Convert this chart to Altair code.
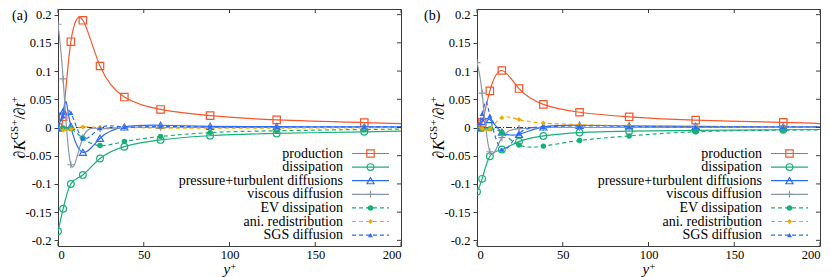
import altair as alt
import pandas as pd

# ---------------- data ----------------
YPLUS = [0.0, 3.0, 7.5, 14.5, 24.5, 38.7, 59.8, 88.7, 127.5, 178.6, 200.0]

SERIES = ["production", "dissipation", "pressure+turbulent diffusions",
          "viscous diffusion", "EV dissipation", "ani. redistribution",
          "SGS diffusion"]

# panel (a)
PROD_A = [0.0, 0.019, 0.152, 0.190, 0.109, 0.054, 0.032, 0.021, 0.0135, 0.0088, 0.007]
DISS_A = [-0.184, -0.144, -0.100, -0.084, -0.055, -0.034, -0.022, -0.0146, -0.0105, -0.0076, -0.0065]
PTD_A = [0.0, 0.028, 0.002, -0.044, -0.019, 0.001, 0.004, 0.002, 0.0015, 0.001, 0.001]
VISC_A = [0.183, 0.086, -0.066, -0.018, -0.002, 0.0, 0.0, 0.0, 0.0, 0.0, 0.0]
EV_A = [0.0, -0.001, -0.002, -0.019, -0.032, -0.025, -0.016, -0.009, -0.0058, -0.0035, -0.003]
ANI_A = [0.0, -0.005, -0.003, 0.001, 0.0, 0.0, -0.001, -0.001, -0.001, -0.0005, -0.0005]
SGS_A = [0.0, 0.020, 0.026, -0.019, -0.001, 0.001, 0.002, 0.001, 0.001, 0.001, 0.001]
# extra readings of curve extrema lying between markers (line only)
PEAK_YP_A = {"pressure+turbulent diffusions": [4.8]}
PEAK_V_A = {"pressure+turbulent diffusions": [0.045]}

# panel (b)
PROD_B = [0.0, 0.009, 0.065, 0.101, 0.069, 0.041, 0.027, 0.019, 0.013, 0.009, 0.007]
DISS_B = [-0.114, -0.091, -0.051, -0.039, -0.025, -0.015, -0.009, -0.0065, -0.005, -0.004, -0.0035]
PTD_B = [0.0, 0.011, 0.014, -0.008, -0.012, 0.001, 0.004, 0.003, 0.002, 0.001, 0.001]
VISC_B = [0.115, 0.061, -0.043, -0.018, -0.002, 0.0, 0.0, 0.0, 0.0, 0.0, 0.0]
EV_B = [0.0, -0.003, -0.002, -0.009, -0.031, -0.033, -0.023, -0.015, -0.0075, -0.0047, -0.004]
ANI_B = [0.0, -0.002, -0.003, 0.0175, 0.014, 0.008, 0.005, 0.003, 0.002, 0.001, 0.001]
SGS_B = [0.0, 0.024, 0.021, -0.039, -0.011, 0.001, 0.003, 0.002, 0.001, 0.001, 0.001]
PEAK_YP_B = {"SGS diffusion": [5.0]}
PEAK_V_B = {"SGS diffusion": [0.046]}

Y_TICKS = [-0.2, -0.15, -0.1, -0.05, 0.0, 0.05, 0.1, 0.15, 0.2]
X_TICKS = [0, 50, 100, 150, 200]

# ---------------- styling ----------------
W, H = 343, 237
FONT = "Liberation Serif"
FRAME = "#3c3c3c"
GREEN = "#1aaf78"
BLUE = "#2a6cf6"

STYLE = {
    "production": dict(color="#f5562b", dash=None, shape="square", filled=False, size=55),
    "dissipation": dict(color=GREEN, dash=None, shape="circle", filled=False, size=45),
    "pressure+turbulent diffusions": dict(color=BLUE, dash=None, shape="triangle-up", filled=False, size=50),
    "viscous diffusion": dict(color="#8c96aa", dash=None, shape="M-1,0L1,0M0,-1L0,1", filled=False, size=50),
    "EV dissipation": dict(color=GREEN, dash=[4, 3], shape="circle", filled=True, size=30),
    "ani. redistribution": dict(color="#f2a900", dash=[4, 3], shape="diamond", filled=True, size=25),
    "SGS diffusion": dict(color=BLUE, dash=[4, 3], shape="triangle-up", filled=True, size=25),
}

X_SCALE = alt.Scale(domain=[0, 200], nice=False, zero=False)
Y_SCALE = alt.Scale(domain=[-0.21, 0.21], nice=False, zero=False)

AX_X = alt.Axis(values=X_TICKS, title=None, grid=False, domain=False, ticks=False,
                labelPadding=2, format="d")
AX_Y = alt.Axis(values=Y_TICKS, title=None, grid=False, domain=False, tickSize=4,
                labelPadding=3,
                labelExpr="datum.value < 0 ? '-' + format(-datum.value, '~g') : format(datum.value, '~g')")

ONE = pd.DataFrame({"k": [0]})


def txt(s, x, y, size=12.5, style="normal", angle=0, align="left", baseline="alphabetic"):
    return alt.Chart(ONE).mark_text(
        font=FONT, fontSize=size, fontStyle=style, angle=angle, align=align,
        baseline=baseline, color="black"
    ).encode(x=alt.value(x), y=alt.value(y), text=alt.value(s))


def panel(values, peak_yp, peak_v, tag, tag_x):
    layers = []
    # zero reference line
    layers.append(
        alt.Chart(pd.DataFrame({"z": [0.0]})).mark_rule(
            color="black", strokeWidth=0.8, strokeDash=[6, 2, 1, 2]
        ).encode(y=alt.Y("z:Q", scale=Y_SCALE, axis=AX_Y))
    )
    # series
    for name, vals in zip(SERIES, values):
        st = STYLE[name]
        df = pd.DataFrame({"yp": YPLUS, "v": vals})
        ldf = pd.concat([df, pd.DataFrame({"yp": peak_yp.get(name, []),
                                           "v": peak_v.get(name, [])})])
        ldf = ldf.sort_values("yp").reset_index(drop=True)
        enc = dict(x=alt.X("yp:Q", scale=X_SCALE, axis=AX_X),
                   y=alt.Y("v:Q", scale=Y_SCALE, axis=AX_Y))
        lk = dict(interpolate="natural", clip=True, color=st["color"], strokeWidth=1.2)
        if st["dash"]:
            lk["strokeDash"] = st["dash"]
        layers.append(alt.Chart(ldf).mark_line(**lk).encode(
            order=alt.Order("yp:Q"), **enc))
        layers.append(
            alt.Chart(df).transform_filter("datum.yp < 190").mark_point(
                shape=st["shape"], filled=st["filled"], size=st["size"],
                color=st["color"], strokeWidth=1.2, opacity=1, clip=True
            ).encode(**enc)
        )
    # inward ticks: right, top, bottom
    ydf = pd.DataFrame({"t": Y_TICKS})
    xdf = pd.DataFrame({"t": X_TICKS})
    layers.append(alt.Chart(ydf).mark_rule(color=FRAME, strokeWidth=1).encode(
        y=alt.Y("t:Q", scale=Y_SCALE, axis=AX_Y), x=alt.value(W - 4), x2=alt.value(W)))
    layers.append(alt.Chart(xdf).mark_rule(color=FRAME, strokeWidth=1).encode(
        x=alt.X("t:Q", scale=X_SCALE, axis=AX_X), y=alt.value(H - 4), y2=alt.value(H)))
    layers.append(alt.Chart(xdf).mark_rule(color=FRAME, strokeWidth=1).encode(
        x=alt.X("t:Q", scale=X_SCALE, axis=AX_X), y=alt.value(0), y2=alt.value(4)))
    # legend (gnuplot style: label on the left, sample on the right)
    ly0, ldy = 144.5, 13.6
    for i, name in enumerate(SERIES):
        st = STYLE[name]
        yy = ly0 + i * ldy
        layers.append(txt(name, 285, yy, size=14, align="right", baseline="middle"))
        rk = dict(color=st["color"], strokeWidth=1.2)
        if st["dash"]:
            rk["strokeDash"] = st["dash"]
        layers.append(alt.Chart(ONE).mark_rule(**rk).encode(
            x=alt.value(294), x2=alt.value(331), y=alt.value(yy)))
        layers.append(alt.Chart(ONE).mark_point(
            shape=st["shape"], filled=st["filled"], size=st["size"],
            color=st["color"], strokeWidth=1.2, opacity=1
        ).encode(x=alt.value(312.5), y=alt.value(yy)))
    # panel tag
    layers.append(txt(tag, tag_x, 7, size=14, baseline="middle"))
    # y-axis title  dK^{GS+}/dt^{+}
    pieces = [("∂", 16, "normal", -33, 0.494), ("K", 16, "italic", -33, 0.667),
              ("GS+", 11, "normal", -40, 1.842), ("/", 16, "normal", -33, 0.278),
              ("∂", 16, "normal", -33, 0.494), ("t", 16, "italic", -33, 0.278),
              ("+", 11, "normal", -40, 0.564)]
    total = sum(p[1] * p[4] for p in pieces)
    cur = H / 2 + total / 2
    for s, sz, style, bx, em in pieces:
        layers.append(txt(s, bx, cur, size=sz, style=style, angle=270))
        cur -= sz * em
    # x-axis title  y^+
    layers.append(txt("y", 165.5, 265, size=15, style="italic"))
    layers.append(txt("+", 172.5, 261, size=10))
    return alt.layer(*layers).properties(width=W, height=H)


pa = panel([PROD_A, DISS_A, PTD_A, VISC_A, EV_A, ANI_A, SGS_A], PEAK_YP_A, PEAK_V_A, "(a)", -46)
pb = panel([PROD_B, DISS_B, PTD_B, VISC_B, EV_B, ANI_B, SGS_B], PEAK_YP_B, PEAK_V_B, "(b)", -53)

chart = alt.hconcat(pa, pb, spacing=76, bounds="flush").properties(
    padding=0
).configure_view(
    stroke=FRAME, strokeWidth=1
).configure_axis(
    labelFont=FONT, labelFontSize=12.5, labelColor="black", tickColor=FRAME
)

chart.save("out.html", embed_options={"renderer": "svg", "actions": False})
